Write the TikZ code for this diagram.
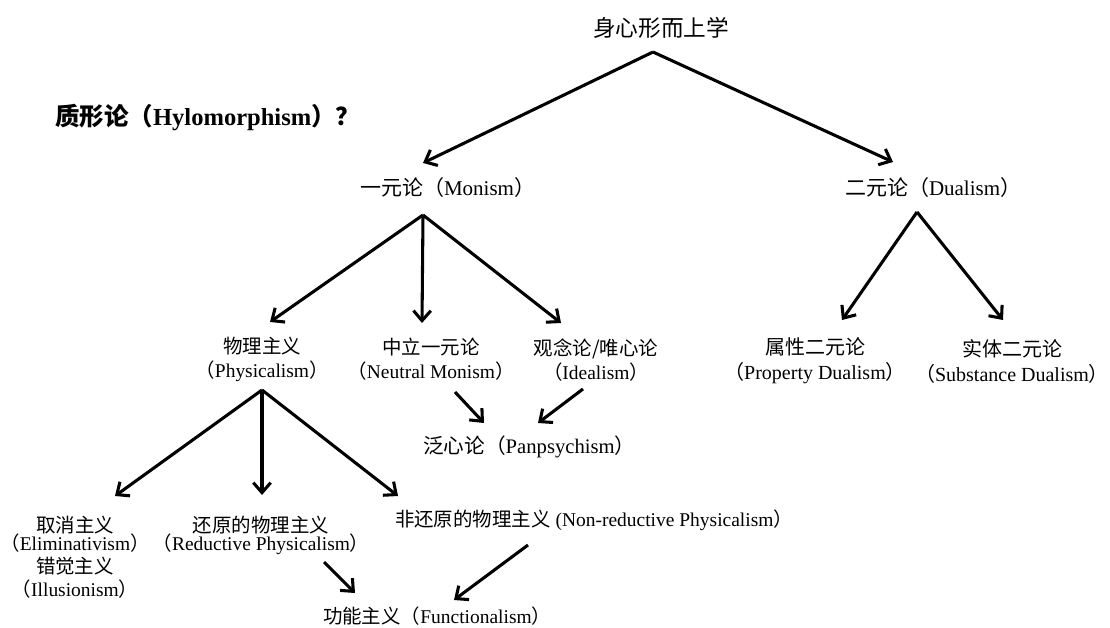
\documentclass[tikz,border=0pt]{standalone}
\usepackage{fontspec}
\setmainfont{Liberation Serif}
\newfontfamily\cjk{Noto Sans CJK SC}
\newcommand\zh[1]{{\cjk #1}}
\usetikzlibrary{arrows.meta,calc}
\begin{document}
\begin{tikzpicture}[x=0.75pt,y=-0.75pt,
  every node/.style={inner sep=0pt,outer sep=0pt,text=black},
  rootlbl/.style={font={\fontsize{17}{20}\selectfont}},
  hylolbl/.style={font={\bfseries\fontsize{18.4}{22}\selectfont}},
  lvtwo/.style={font={\fontsize{15.75}{19}\selectfont}},
  lvthree/.style={align=center,font={\lineskiplimit=-50pt\fontsize{14.6}{18}\selectfont}},
  lvdual/.style={align=center,font={\lineskiplimit=-50pt\fontsize{15}{18.75}\selectfont}},
  panlbl/.style={font={\fontsize{15.5}{18}\selectfont}},
  lvbot/.style={align=center,font={\lineskiplimit=-50pt\fontsize{14.6}{13.6}\selectfont}},
  arr/.style={draw=black,line width=2.3pt,-{Straight Barb[length=7.5pt,width=13pt]}}
]
\useasboundingbox (0,0) rectangle (1110,628);
\fill[white] (0,0) rectangle (1110,628);

% nodes
\node[rootlbl] (root) at (661,28) {\zh{身心形而上学}};
\node[hylolbl,anchor=west] (hylo) at (55,118) {\zh{质形论（}Hylomorphism\zh{）？}};
\node[lvtwo,anchor=west] (mon) at (360,188) {\zh{一元论（}Monism\zh{）}};
\node[lvtwo,anchor=west] (dual) at (845,188) {\zh{二元论（}Dualism\zh{）}};

\node[lvthree] (phys) at (262,359) {\zh{物理主义}\\\zh{（}Physicalism\zh{）}};
\node[lvthree] (neutral) at (431,359) {\zh{中立一元论}\\\zh{（}Neutral Monism\zh{）}};
\node[lvthree] (ideal) at (596,360) {\zh{观念论/唯心论}\\\zh{（}Idealism\zh{）}};
\node[lvdual] (prop) at (815,361) {\zh{属性二元论}\\\zh{（}Property Dualism\zh{）}};
\node[lvdual] (subst) at (1012,361) {\zh{实体二元论}\\\zh{（}Substance Dualism\zh{）}};

\node[panlbl,anchor=west] (pan) at (423,447) {\zh{泛心论（}Panpsychism\zh{）}};

\node[lvbot] (elim) at (75,557) {\zh{取消主义}\\\zh{（}Eliminativism\zh{）}\\[3.5pt]\zh{错觉主义}\\[3.5pt]\zh{（}Illusionism\zh{）}};
\node[lvbot] (red) at (261,535) {\zh{还原的物理主义}\\\zh{（}Reductive Physicalism\zh{）}};
\node[lvbot,anchor=west] (nonred) at (395,520) {\zh{非还原的物理主义} (Non-reductive Physicalism\zh{）}};
\node[lvbot,anchor=west] (func) at (323,616) {\zh{功能主义（}Functionalism\zh{）}};

% fork points
\coordinate (rootfork) at ($(root.center)+(-8,24)$);
\coordinate (monfork) at ($(mon.west)+(63,27)$);
\coordinate (dualfork) at ($(dual.west)+(72,24)$);
\coordinate (physfork) at ($(phys.center)+(0,31)$);

% connectors
\draw[arr] (rootfork) -- ($(mon.west)+(63,-25)$);
\draw[arr] (rootfork) -- ($(dual.west)+(48,-26)$);

\draw[arr] (monfork) -- ($(phys.center)+(8,-37)$);
\draw[arr] (monfork) -- ($(neutral.center)+(-9,-36)$);
\draw[arr] (monfork) -- ($(ideal.center)+(-35,-37)$);

\draw[arr] (dualfork) -- ($(prop.center)+(27,-41)$);
\draw[arr] (dualfork) -- ($(subst.center)+(-9,-41)$);

\draw[arr] (physfork) -- ($(elim.center)+(40,-61)$);
\draw[arr] (physfork) -- ($(red.center)+(1,-40)$);
\draw[arr] (physfork) -- ($(nonred.west)+(3,-24)$);

\draw[arr] ($(neutral.center)+(24,33)$) -- ($(pan.west)+(61,-24)$);
\draw[arr] ($(ideal.center)+(-13,29)$) -- ($(pan.west)+(115,-24)$);

\draw[arr] ($(red.center)+(63,27)$) -- ($(func.west)+(32,-23)$);
\draw[arr] ($(nonred.west)+(133,25)$) -- ($(func.west)+(131,-16)$);
\end{tikzpicture}
\end{document}
